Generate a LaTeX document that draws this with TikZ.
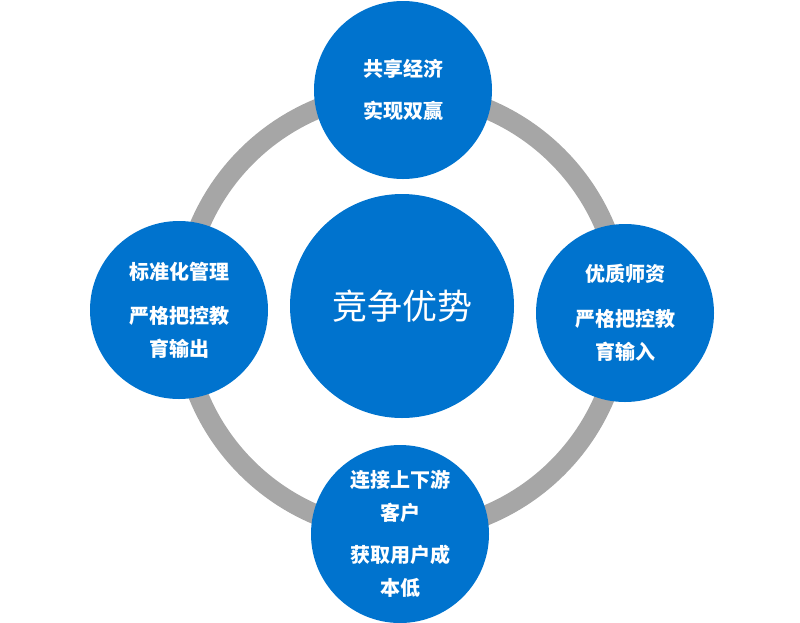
\documentclass[tikz,border=0pt]{standalone}
\usepackage{fontspec}
\newfontfamily\cjk{Noto Sans CJK SC}
\usepackage{tikz}
\usetikzlibrary{positioning}
\definecolor{bluefill}{RGB}{0,115,206}
\definecolor{ringgray}{RGB}{166,166,166}
\tikzset{
  petal/.style={circle,fill=bluefill,minimum size=178pt,inner sep=0pt,text=white,
    align=center,font=\cjk\bfseries\fontsize{20}{33}\selectfont},
  core/.style={circle,fill=bluefill,minimum size=224pt,inner sep=0pt,text=white,
    font=\cjk\fontsize{35}{40}\selectfont}
}
\begin{document}
\begin{tikzpicture}[x=1pt,y=-1pt]
  \useasboundingbox (0,0) rectangle (800,622);
  \coordinate (hub) at (402,312);
  \draw[ringgray,line width=20pt] (hub) circle (220pt);
  \node[core] (adv) at (402,306) {竞争优势};
  \node[petal] (share) at (403,90) {共享经济\\[9pt]实现双赢};
  \node[petal] (manage) at (179,310) {标准化管理\\[11pt]严格把控教\\育输出};
  \node[petal] (teach) at (625,313) {优质师资\\[12pt]严格把控教\\育输入};
  \node[petal] (client) at (400,534) {连接上下游\\客户\\[9pt]获取用户成\\本低};
\end{tikzpicture}
\end{document}
